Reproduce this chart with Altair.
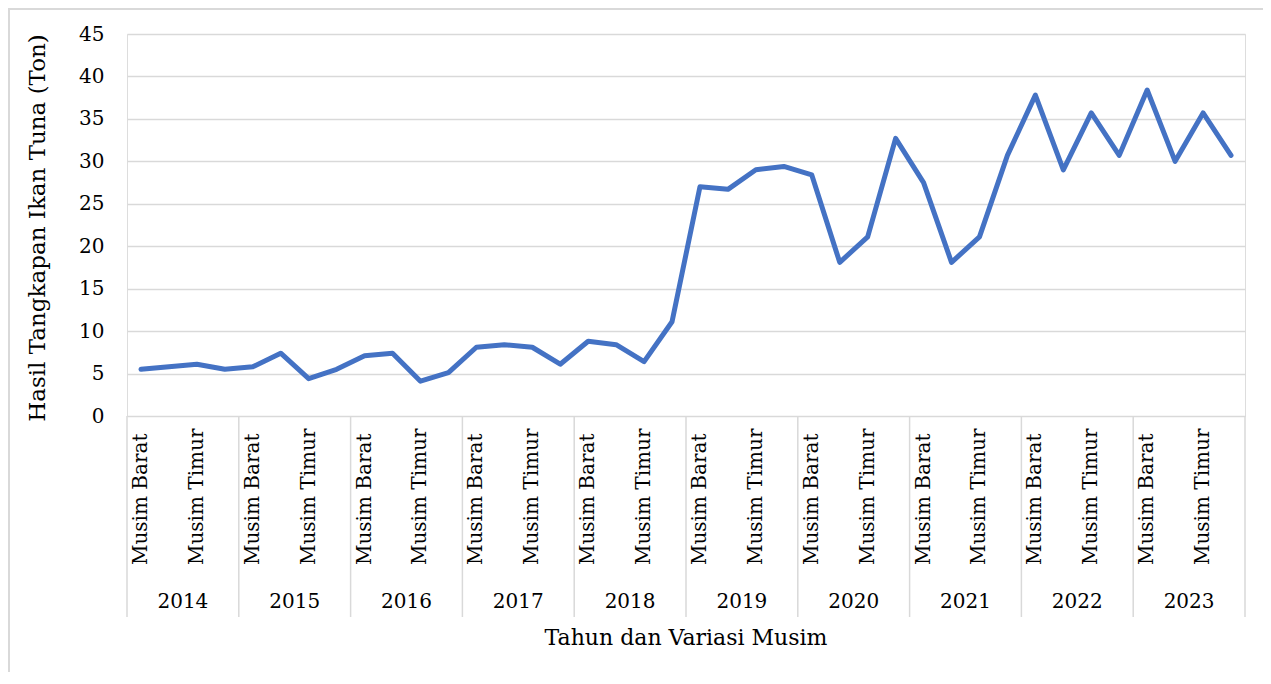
import altair as alt
import pandas as pd

years = [2014, 2015, 2016, 2017, 2018, 2019, 2020, 2021, 2022, 2023]
musim = ["Musim Barat", "Peralihan I", "Musim Timur", "Peralihan II"]
shown_musim = ["Musim Barat", "Musim Timur"]
hasil = [
    5.5, 5.8, 6.1, 5.5,
    5.8, 7.4, 4.4, 5.5,
    7.1, 7.4, 4.1, 5.1,
    8.1, 8.4, 8.1, 6.1,
    8.8, 8.4, 6.4, 11.1,
    27.0, 26.7, 29.0, 29.4,
    28.4, 18.1, 21.1, 32.7,
    27.5, 18.1, 21.1, 30.7,
    37.8, 29.0, 35.7, 30.7,
    38.4, 30.0, 35.7, 30.7,
]
y_ticks = [0, 5, 10, 15, 20, 25, 30, 35, 40, 45]

FONT = "DejaVu Serif"
GRID = "#d9d9d9"
W, H = 1118, 382
n_m = len(musim)
n = len(years) * n_m

rows = []
for yi, yr in enumerate(years):
    for mi, m in enumerate(musim):
        k = yi * n_m + mi
        rows.append({"pos": k + 0.5, "tahun": yr, "musim": m, "hasil": hasil[k]})
df = pd.DataFrame(rows)
df_lab = df[df["musim"].isin(shown_musim)]
df_year = pd.DataFrame({"pos": [i * n_m + n_m / 2 for i in range(len(years))],
                        "tahun": [str(y) for y in years]})
df_sep = pd.DataFrame({"pos": [i * n_m for i in range(len(years) + 1)]})

xs = alt.Scale(domain=[0, n], nice=False, zero=False)

line = alt.Chart(df).mark_line(color="#4472C4", strokeWidth=5,
                               strokeJoin="round", strokeCap="round").encode(
    x=alt.X("pos:Q", scale=xs, axis=None),
    y=alt.Y("hasil:Q", scale=alt.Scale(domain=[0, 45], nice=False),
            axis=alt.Axis(values=y_ticks, title=None, ticks=False, domain=False,
                          grid=True, gridColor=GRID, gridWidth=1.3,
                          labelFont=FONT, labelFontSize=20, labelColor="#000000",
                          labelPadding=23)),
)

sep = alt.Chart(df_sep).mark_rule(color=GRID, strokeWidth=1.5).encode(
    x=alt.X("pos:Q", scale=xs, axis=None),
    y=alt.value(H), y2=alt.value(H + 201),
)

season = alt.Chart(df_lab).mark_text(angle=270, align="left", baseline="middle",
                                     font=FONT, fontSize=20, color="#000000").encode(
    x=alt.X("pos:Q", scale=xs, axis=None),
    y=alt.value(H + 149),
    text="musim:N",
)

yrtxt = alt.Chart(df_year).mark_text(align="center", baseline="middle",
                                     font=FONT, fontSize=20, color="#000000").encode(
    x=alt.X("pos:Q", scale=xs, axis=None),
    y=alt.value(H + 186),
    text="tahun:N",
)

xtitle = alt.Chart(pd.DataFrame({"t": ["Tahun dan Variasi Musim"]})).mark_text(
    align="center", baseline="middle", font=FONT, fontSize=22, color="#000000").encode(
    x=alt.value(559), y=alt.value(H + 222), text="t:N")

ytitle = alt.Chart(pd.DataFrame({"t": ["Hasil Tangkapan Ikan Tuna (Ton)"]})).mark_text(
    align="center", baseline="middle", angle=270, font=FONT, fontSize=23,
    color="#000000").encode(
    x=alt.value(-89), y=alt.value(194), text="t:N")

border = alt.Chart(pd.DataFrame({"a": [0]})).mark_rect(
    fill=None, stroke=GRID, strokeWidth=2).encode(
    x=alt.value(-118), x2=alt.value(W + 40), y=alt.value(-25), y2=alt.value(H + 300))

chart = alt.layer(border, sep, line, season, yrtxt, xtitle, ytitle).properties(
    width=W, height=H,
    padding={"left": 119, "top": 26, "right": 18, "bottom": 256},
    autosize=alt.AutoSizeParams(type="none"),
).configure_view(stroke=None).configure(background="#ffffff")

chart.save("out.html", embed_options={"renderer": "svg", "actions": False})
